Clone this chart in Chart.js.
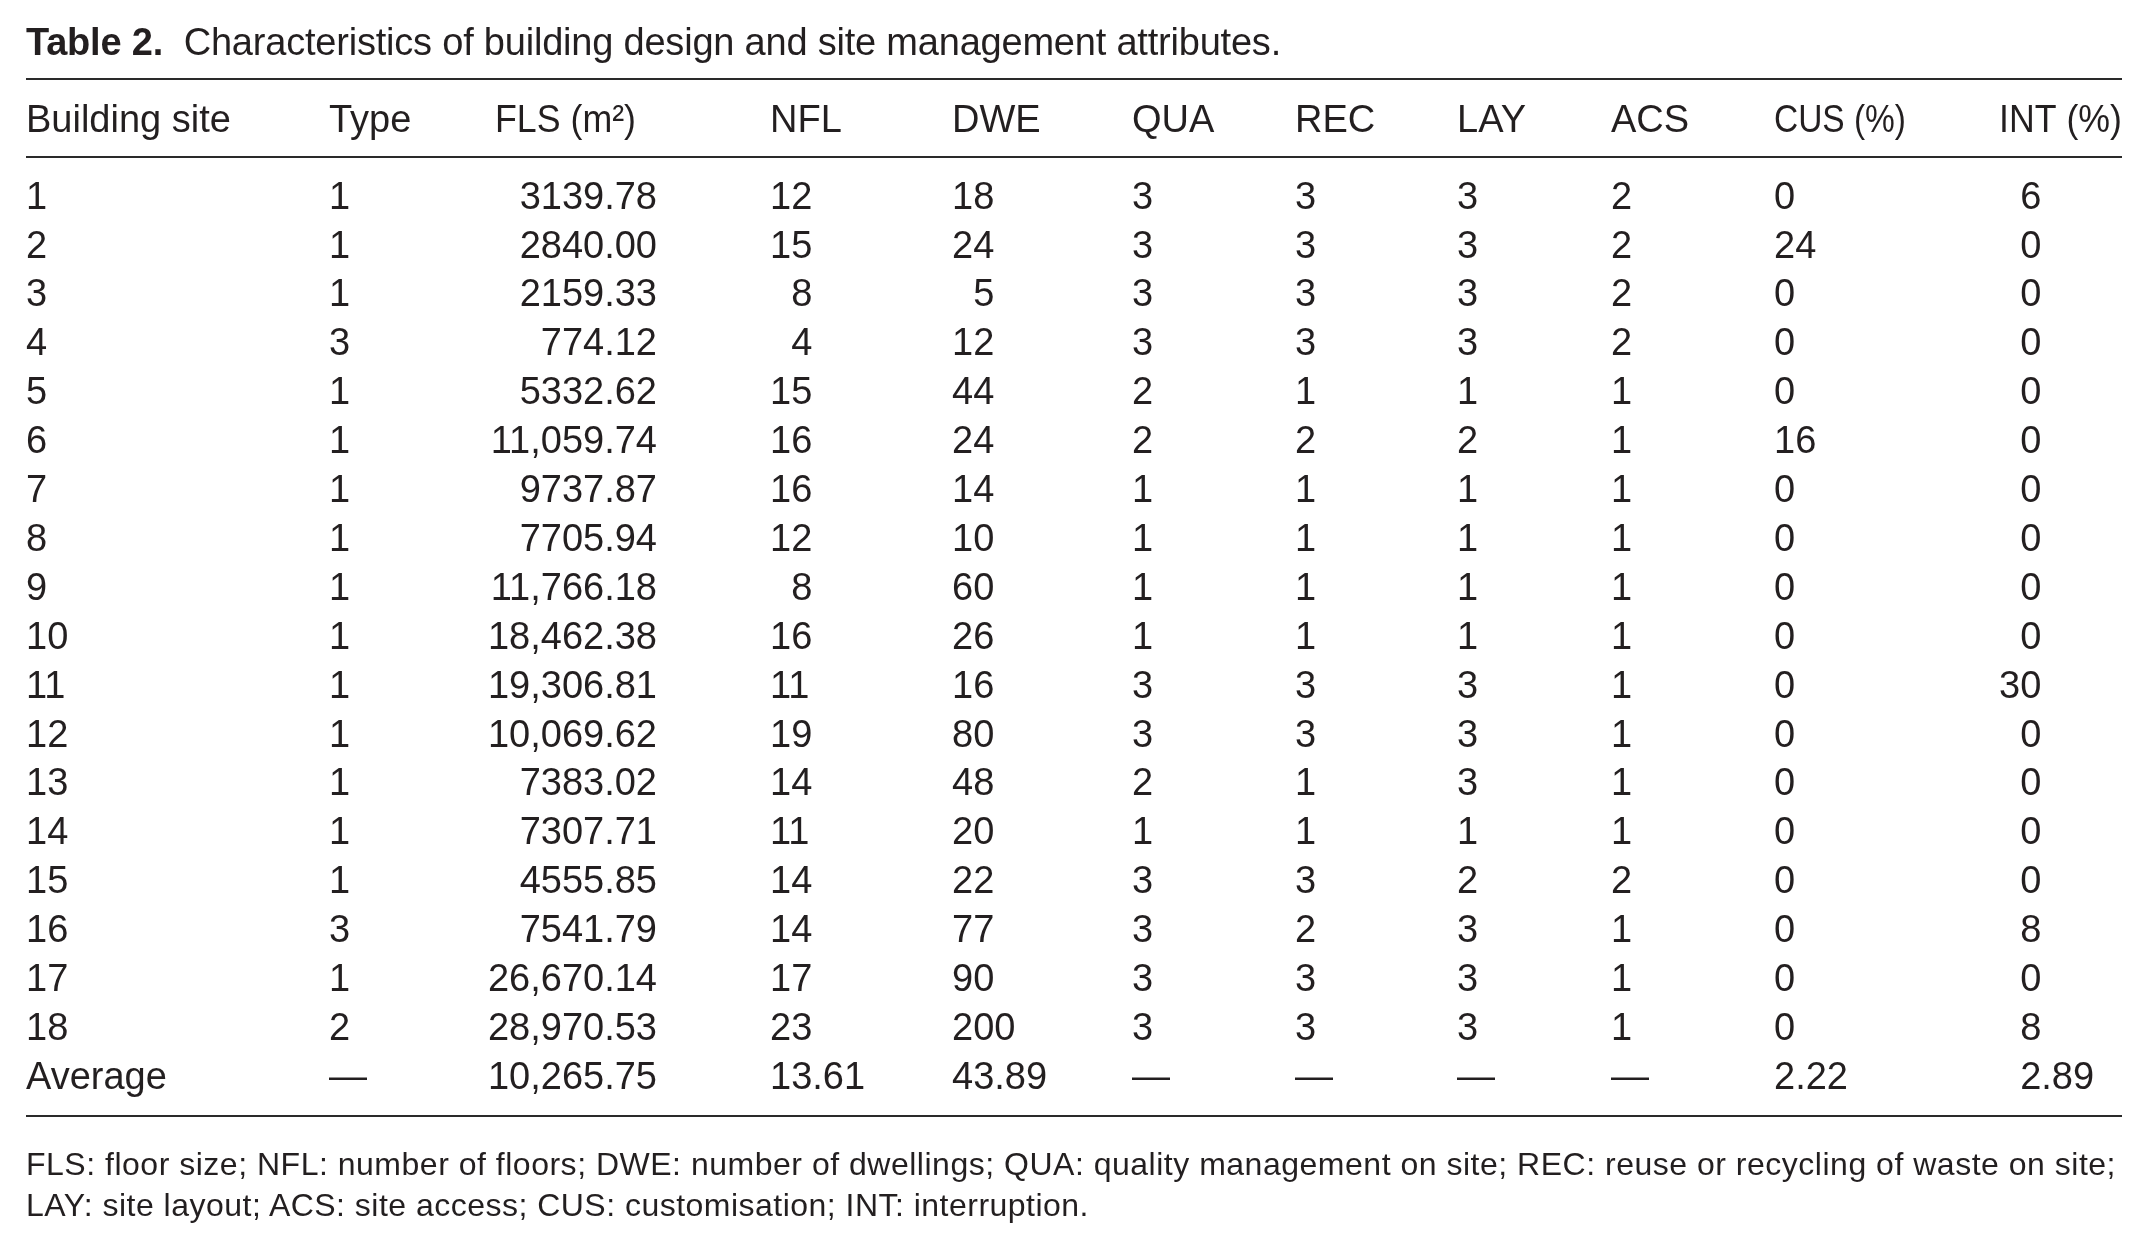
<!DOCTYPE html>
<html>
<head>
<meta charset="utf-8">
<script src="https://cdn.jsdelivr.net/npm/chart.js@4.4.1/dist/chart.umd.min.js"></script>
<style>
  html, body { margin: 0; padding: 0; background: #ffffff; }
  #wrap { position: relative; width: 2148px; height: 1249px; overflow: hidden; }
  #table { position: absolute; left: 0; top: 0; }
  .txt {
    position: absolute; left: 26px; white-space: nowrap; color: #231f20;
    font-family: 'Liberation Sans', Arial, sans-serif;
  }
  #title { top: 23px; font-size: 38px; line-height: 38px; }
  #title b { font-weight: bold; }
  .foot { font-size: 32px; line-height: 41px; }
</style>
</head>
<body>
<div id="wrap">
  <canvas id="table" width="2148" height="1249"></canvas>
  <div id="title" class="txt"><b>Table 2.</b>&nbsp; Characteristics of building design and site management attributes.</div>
  <div id="foot1" class="txt foot" style="top:1144px">FLS: floor size; NFL: number of floors; DWE: number of dwellings; QUA: quality management on site; REC: reuse or recycling of waste on site;</div>
  <div id="foot2" class="txt foot" style="top:1185px">LAY: site layout; ACS: site access; CUS: customisation; INT: interruption.</div>
</div>
<script>
// ─── 표 데이터 ───
const SITES = ['1', '2', '3', '4', '5', '6', '7', '8', '9', '10', '11', '12', '13', '14', '15', '16', '17', '18'];
const AVERAGE_LABEL = 'Average';
const HEADERS = ['Building site', 'Type', 'FLS (m²)', 'NFL', 'DWE', 'QUA', 'REC', 'LAY', 'ACS', 'CUS (%)', 'INT (%)'];

const TYPE = [1, 1, 1, 3, 1, 1, 1, 1, 1, 1, 1, 1, 1, 1, 1, 3, 1, 2];
const FLS = [3139.78, 2840.00, 2159.33, 774.12, 5332.62, 11059.74, 9737.87, 7705.94, 11766.18,
  18462.38, 19306.81, 10069.62, 7383.02, 7307.71, 4555.85, 7541.79, 26670.14, 28970.53];
const NFL = [12, 15, 8, 4, 15, 16, 16, 12, 8, 16, 11, 19, 14, 11, 14, 14, 17, 23];
const DWE = [18, 24, 5, 12, 44, 24, 14, 10, 60, 26, 16, 80, 48, 20, 22, 77, 90, 200];
const QUA = [3, 3, 3, 3, 2, 2, 1, 1, 1, 1, 3, 3, 2, 1, 3, 3, 3, 3];
const REC = [3, 3, 3, 3, 1, 2, 1, 1, 1, 1, 3, 3, 1, 1, 3, 2, 3, 3];
const LAY = [3, 3, 3, 3, 1, 2, 1, 1, 1, 1, 3, 3, 3, 1, 2, 3, 3, 3];
const ACS = [2, 2, 2, 2, 1, 1, 1, 1, 1, 1, 1, 1, 1, 1, 2, 1, 1, 1];
const CUS = [0, 24, 0, 0, 0, 16, 0, 0, 0, 0, 0, 0, 0, 0, 0, 0, 0, 0];
const INT = [6, 0, 0, 0, 0, 0, 0, 0, 0, 0, 30, 0, 0, 0, 0, 8, 0, 8];

// 평균 행 (null = 대시)
const AVERAGES = [null, 10265.75, 13.61, 43.89, null, null, null, null, 2.22, 2.89];

// ─── 레이아웃 (픽셀 좌표계 x축, 행 카테고리 y축) ───
const COL_X = [26, 329, 495, 770, 952, 1132, 1295, 1457, 1611, 1774, 1999];
const FLS_RIGHT = 657;
// 괄호가 들어간 헤더는 원본 폭에 맞춤
const HEADER_FIT = { 2: 141, 9: 132, 10: 123 };
const RULE_LEFT = 26, RULE_RIGHT = 2122;
const RULE_TOP = 79, RULE_HEAD = 157, RULE_BOTTOM = 1116;
const HEADER_Y = 118.5;
const ROW_FIRST = 195, ROW_STEP = 48.9;
const FONT_SIZE = 38;
const FONT = `${FONT_SIZE}px 'Liberation Sans', Arial, sans-serif`;
const INK = '#231f20';

const ROW_LABELS = [...SITES, AVERAGE_LABEL];
const VALUE_COLUMNS = [TYPE, FLS, NFL, DWE, QUA, REC, LAY, ACS, CUS, INT];
// 정렬 방식: left | right | dec2(정수부 최소 두 자리)
const COL_ALIGN = ['left', 'left', 'right', 'dec2', 'dec2', 'left', 'left', 'left', 'left', 'left', 'dec2'];

function formatValue(col, v) {
  if (v === null || v === undefined) return '—';
  if (col === 1) {
    const s = v.toFixed(2);
    if (v < 10000) return s;
    const [i, d] = s.split('.');
    return i.replace(/\B(?=(\d{3})+(?!\d))/g, ',') + '.' + d;
  }
  return String(v);
}

// 열마다 데이터셋 하나: 점 위치는 스케일이 계산
const datasets = [];
datasets.push({
  label: HEADERS[0],
  data: ROW_LABELS.map((r) => ({ x: COL_X[0], y: r, text: r })),
});
VALUE_COLUMNS.forEach((arr, c) => {
  const anchor = c === 1 ? FLS_RIGHT : COL_X[c + 1];
  const data = arr.map((v, i) => ({ x: anchor, y: ROW_LABELS[i], text: formatValue(c, v) }));
  data.push({ x: anchor, y: AVERAGE_LABEL, text: formatValue(c, AVERAGES[c]), dash: AVERAGES[c] === null });
  datasets.push({ label: HEADERS[c + 1], data });
});

const tablePlugin = {
  id: 'tableText',
  afterDatasetsDraw(chart) {
    const { ctx, scales } = chart;
    const xs = scales.x;
    ctx.save();
    ctx.fillStyle = INK;
    ctx.font = FONT;
    ctx.textBaseline = 'alphabetic';
    const capOffset = FONT_SIZE * 0.358;
    const digitW = ctx.measureText('0').width;

    // 가로 괘선
    ctx.strokeStyle = '#2a2a2a';
    ctx.lineWidth = 2;
    [RULE_TOP, RULE_HEAD, RULE_BOTTOM].forEach((y) => {
      ctx.beginPath();
      ctx.moveTo(xs.getPixelForValue(RULE_LEFT), y);
      ctx.lineTo(xs.getPixelForValue(RULE_RIGHT), y);
      ctx.stroke();
    });

    // 헤더
    ctx.textAlign = 'left';
    HEADERS.forEach((h, c) => {
      const x = xs.getPixelForValue(COL_X[c]);
      const target = HEADER_FIT[c];
      if (target) {
        const w = ctx.measureText(h).width;
        ctx.save();
        ctx.translate(x, HEADER_Y + capOffset);
        ctx.scale(target / w, 1);
        ctx.fillText(h, 0, 0);
        ctx.restore();
      } else {
        ctx.fillText(h, x, HEADER_Y + capOffset);
      }
    });

    // 셀
    chart.data.datasets.forEach((ds, c) => {
      const meta = chart.getDatasetMeta(c);
      const align = COL_ALIGN[c];
      meta.data.forEach((pt, i) => {
        const item = ds.data[i];
        const s = item.text;
        const y = pt.y + capOffset;
        if (align === 'right') {
          ctx.textAlign = 'right';
          ctx.fillText(s, pt.x, y);
        } else if (align === 'dec2' && !item.dash) {
          const intLen = s.split('.')[0].length;
          ctx.textAlign = 'left';
          ctx.fillText(s, pt.x + Math.max(0, 2 - intLen) * digitW, y);
        } else {
          ctx.textAlign = 'left';
          ctx.fillText(s, pt.x, y);
        }
      });
    });
    ctx.restore();
  },
};

new Chart(document.getElementById('table'), {
  type: 'scatter',
  data: { datasets },
  options: {
    responsive: false,
    animation: false,
    events: [],
    layout: {
      padding: {
        left: 0,
        right: 0,
        top: ROW_FIRST - ROW_STEP / 2,
        bottom: 1249 - (ROW_FIRST + ROW_STEP * (ROW_LABELS.length - 0.5)),
      },
    },
    elements: { point: { radius: 0, hoverRadius: 0 } },
    plugins: { legend: { display: false }, tooltip: { enabled: false }, title: { display: false } },
    scales: {
      x: { type: 'linear', min: 0, max: 2148, display: false },
      y: { type: 'category', labels: ROW_LABELS, offset: true, display: false },
    },
  },
  plugins: [tablePlugin],
});

// 제목/각주 폭을 원본에 맞춤
function fitWidth(id, target) {
  const el = document.getElementById(id);
  const w = el.getBoundingClientRect().width;
  const n = el.textContent.length;
  el.style.letterSpacing = ((target - w) / n).toFixed(3) + 'px';
}
fitWidth('title', 1255);
fitWidth('foot1', 2090);
fitWidth('foot2', 1063);
</script>
</body>
</html>
